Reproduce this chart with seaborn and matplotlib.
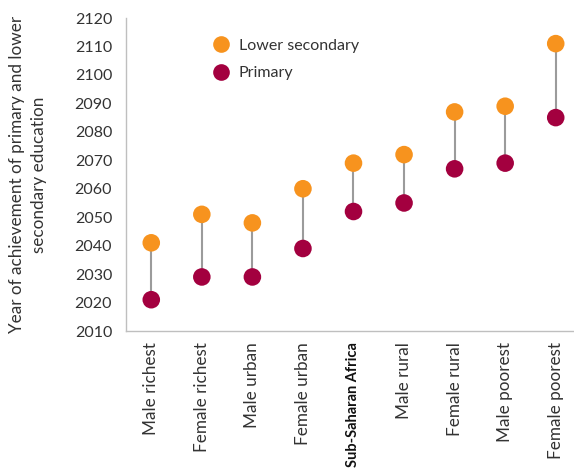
import matplotlib.pyplot as plt
import numpy as np
import pandas as pd
import seaborn as sns
from matplotlib.lines import Line2D

groups = ['Male richest', 'Female richest', 'Male urban', 'Female urban',
          'Sub-Saharan Africa', 'Male rural', 'Female rural', 'Male poorest',
          'Female poorest']
primary = [2021, 2029, 2029, 2039, 2052, 2055, 2067, 2069, 2085]
lower_secondary = [2041, 2051, 2048, 2060, 2069, 2072, 2087, 2089, 2111]
y_ticks = list(range(2010, 2121, 10))

orange = '#F7931E'
purple = '#A3003F'
grey_line = '#9B9B9B'
text_col = '#333333'

sns.set_style('white')
plt.rcParams['font.family'] = ['Lato', 'DejaVu Sans']

df = pd.DataFrame({
    'group': groups * 2,
    'year': primary + lower_secondary,
    'level': ['Primary'] * len(groups) + ['Lower secondary'] * len(groups),
})

fig = plt.figure(figsize=(5.74, 4.68), dpi=100)
ax = fig.add_axes([0.2195, 0.2927, 0.7927, 0.6688])

ax.vlines(groups, primary, lower_secondary, color=grey_line, linewidth=1.5, zorder=1)
sns.scatterplot(data=df, x='group', y='year', hue='level',
                palette={'Primary': purple, 'Lower secondary': orange},
                s=160, edgecolor='none', legend=False, ax=ax, zorder=3)

ax.set_xlim(-0.5, len(groups) - 0.5)
ax.set_ylim(2010, 2120)
ax.set_yticks(y_ticks)
ax.set_yticklabels([str(t) for t in y_ticks], fontsize=11.5, color=text_col)

ax.set_xticks(range(len(groups)))
ax.set_xticklabels(groups, rotation=90, fontsize=12.3, color=text_col)
ax.set_xticks(np.arange(0.5, len(groups) - 0.5), minor=True)
ax.tick_params(axis='x', which='major', length=0, pad=8)
ax.tick_params(axis='x', which='minor', length=4, color='#BFBFBF', width=1)
ax.tick_params(axis='y', length=4, color='#BFBFBF', width=1, pad=6)
for lbl in ax.get_xticklabels():
    if lbl.get_text() == 'Sub-Saharan Africa':
        lbl.set_fontweight('bold')
        lbl.set_fontsize(10.5)
        lbl.set_color('#111111')

for side in ['top', 'right']:
    ax.spines[side].set_visible(False)
for side in ['left', 'bottom']:
    ax.spines[side].set_color('#BFBFBF')
    ax.spines[side].set_linewidth(1)

ax.set_xlabel('')
ax.set_ylabel('Year of achievement of primary and lower\nsecondary education',
              fontsize=12.3, color=text_col, labelpad=20, linespacing=1.45)

handles = [
    Line2D([], [], marker='o', linestyle='none', markersize=12,
           markerfacecolor=orange, markeredgecolor='none', label='Lower secondary'),
    Line2D([], [], marker='o', linestyle='none', markersize=12,
           markerfacecolor=purple, markeredgecolor='none', label='Primary'),
]
leg = ax.legend(handles=handles, loc='upper left', bbox_to_anchor=(0.16, 0.955),
                frameon=False, fontsize=11.5, handletextpad=0.1, labelspacing=0.85,
                borderaxespad=0)
for t in leg.get_texts():
    t.set_color(text_col)

fig.savefig('out.png', dpi=100)
